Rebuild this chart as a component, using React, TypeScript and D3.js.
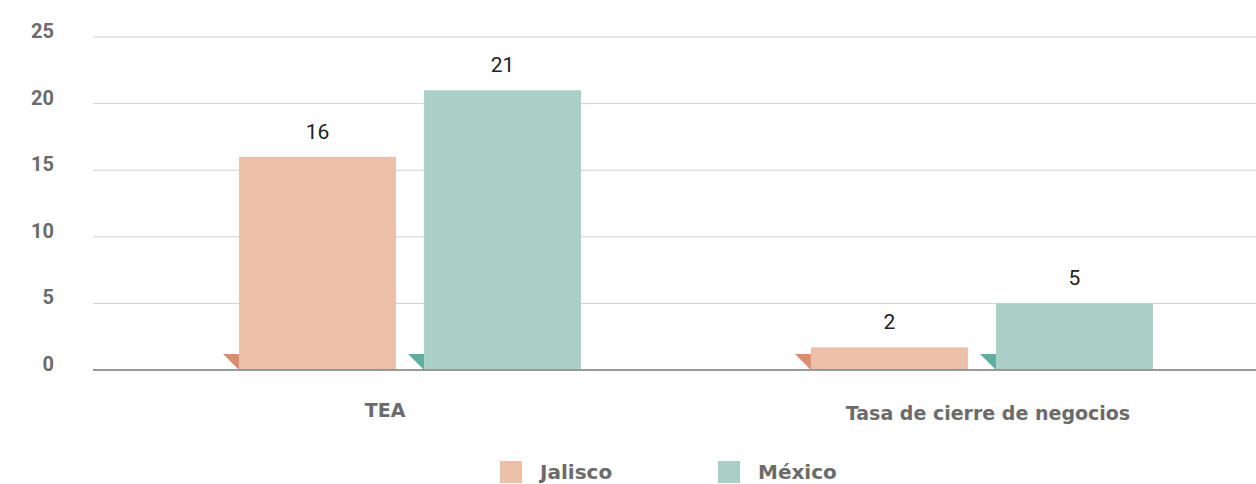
import React from "react";
import * as d3 from "d3";

const categories = ["TEA", "Tasa de cierre de negocios"];
const seriesNames = ["Jalisco", "México"];
const jalisco = [16, 1.7];
const mexico = [21, 5];
const valueLabels = [["16", "21"], ["2", "5"]];
const yTicks = [0, 5, 10, 15, 20, 25];

const W = 1256;
const H = 484;
const barColors = ["#EBBFA8", "#AACFC7"];
const triColors = ["#DE8C6E", "#5BB0A0"];
const labelShift = [-25, 6];

export default function App() {
  const y = d3.scaleLinear().domain([0, 25]).range([370, 37]);
  const x0 = d3.scaleBand<string>().domain(categories).range([239, 1153]).paddingInner(0.402).paddingOuter(0);
  const x1 = d3.scaleBand<string>().domain(seriesNames).range([0, x0.bandwidth()]).paddingInner(0.152).paddingOuter(0);
  const series = [jalisco, mexico];
  const font = "Roboto, 'DejaVu Sans', sans-serif";
  const wide = "'DejaVu Sans', sans-serif";
  const tri = 16;

  return (
    <div style={{ position: "absolute", left: 0, top: 0 }}>
      <svg width={W} height={H} style={{ display: "block" }}>
        <rect width={W} height={H} fill="#fff" />
        {yTicks.map((t) => (
          <g key={t}>
            {t !== 0 && <line x1={93} x2={W} y1={y(t)} y2={y(t)} stroke="#d0d0d0" strokeWidth={1} />}
            <text x={54} y={y(t) - 6} dy="0.35em" textAnchor="end" fontFamily={font} fontWeight={700} fontSize={20} fill="#6b6b6b">
              {t}
            </text>
          </g>
        ))}
        {categories.map((c, ci) => (
          <g key={c}>
            {seriesNames.map((s, si) => {
              const v = series[si][ci];
              const bx = (x0(c) as number) + (x1(s) as number);
              const bw = x1.bandwidth();
              const y0 = y(0);
              return (
                <g key={s}>
                  <path d={`M${bx - tri},${y0 - tri}L${bx},${y0 - tri}L${bx},${y0}Z`} fill={triColors[si]} />
                  <rect x={bx} y={y(v)} width={bw} height={y0 - y(v)} fill={barColors[si]} />
                  <text x={bx + bw / 2} y={y(v) - 18} textAnchor="middle" fontFamily={font} fontSize={21} fill="#222">
                    {valueLabels[ci][si]}
                  </text>
                </g>
              );
            })}
            <text
              x={(x0(c) as number) + x0.bandwidth() / 2 + labelShift[ci]}
              y={ci === 0 ? 417 : 420}
              textAnchor="middle"
              fontFamily={wide}
              fontWeight={700}
              fontSize={19}
              fill="#6b6b6b"
            >
              {c}
            </text>
          </g>
        ))}
        <line x1={93} x2={W} y1={y(0)} y2={y(0)} stroke="#999" strokeWidth={2} />
        {seriesNames.map((s, i) => (
          <g key={s} transform={`translate(${500 + i * 218},461)`}>
            <rect width={22} height={22} fill={barColors[i]} />
            <text x={40} y={11} dy="0.36em" fontFamily={wide} fontWeight={700} fontSize={20} fill="#6b6b6b">
              {s}
            </text>
          </g>
        ))}
      </svg>
    </div>
  );
}
